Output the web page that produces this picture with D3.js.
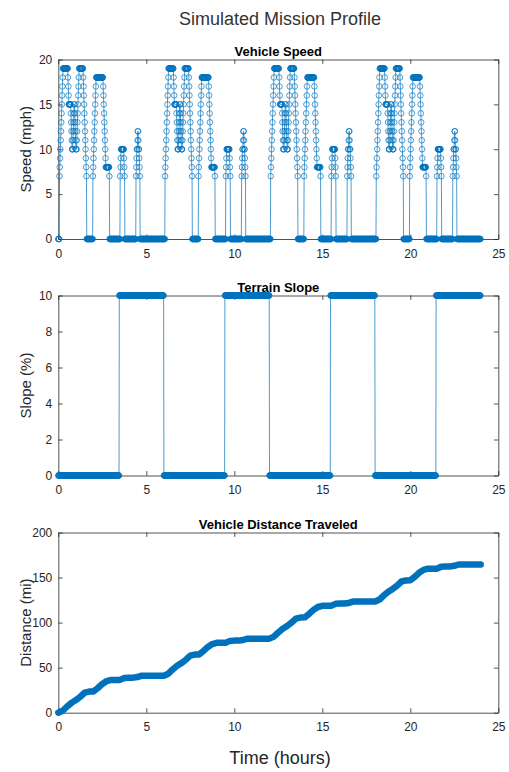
<!DOCTYPE html>
<html>
<head>
<meta charset="utf-8">
<script src="https://cdn.jsdelivr.net/npm/d3@7"></script>
<style>
  body { margin: 0; background: #fff; }
  svg { display: block; font-family: "Liberation Sans", Arial, sans-serif; }
</style>
</head>
<body>
<div id="chart"></div>
<script>
// One 6-hour mission leg, sampled every minute: [speed (mph), minutes held]
var speedRuns = [
  [0, 4],
  [7, 1], [8, 1], [9, 1], [10, 1], [11, 1], [12, 1], [13, 1], [14, 1], [15, 1], [16, 1], [17, 1], [18, 1],
  [19, 17],
  [18, 1], [17, 1], [16, 1],
  [15, 7],
  [14, 1], [13, 1], [12, 1], [11, 1],
  [10, 3],
  [11, 1], [12, 1], [13, 1], [14, 1],
  [15, 2],
  [14, 1], [13, 1], [12, 1], [11, 1],
  [10, 3],
  [11, 1], [12, 1], [13, 1], [14, 1], [15, 1], [16, 1], [17, 1], [18, 1],
  [19, 14],
  [18, 1], [17, 1], [16, 1], [15, 1], [14, 1], [13, 1], [12, 1], [11, 1], [10, 1], [9, 1], [8, 1],
  [7, 1],
  [0, 21],
  [7, 1], [8, 1], [9, 1], [10, 1], [11, 1], [12, 1], [13, 1], [14, 1], [15, 1], [16, 1], [17, 1],
  [18, 24],
  [17, 1], [16, 1], [15, 1], [14, 1], [13, 1], [12, 1], [11, 1], [10, 1], [9, 1],
  [8, 12],
  [7, 1],
  [0, 36],
  [7, 1], [8, 1], [9, 1],
  [10, 10],
  [9, 1], [8, 1], [7, 1],
  [0, 38],
  [7, 1], [8, 1], [9, 1], [10, 2], [11, 1], [12, 2], [11, 1], [10, 2], [9, 1], [8, 1], [7, 1],
  [0, 81]
];
// Terrain slope over the same leg: [slope (%), minutes held]
var slopeRuns = [[0, 208], [10, 152]];
var legCount = 4;

// Distance traveled (mi), read every quarter hour from 0 to 24 h
var distanceMiles = [
  0, 2.2, 6.9, 10.9, 14.0, 17.7, 22.2, 23.4, 23.6, 27.4, 31.9, 35.1, 36.4, 36.4, 36.4, 38.6, 38.9, 38.9, 39.6, 41.1, 41.1, 41.1, 41.1, 41.1,
  41.1, 43.3, 48.0, 52.0, 55.1, 58.8, 63.3, 64.5, 64.7, 68.5, 73.0, 76.2, 77.5, 77.5, 77.5, 79.7, 80.0, 80.0, 80.7, 82.2, 82.2, 82.2, 82.2, 82.2,
  82.2, 84.4, 89.1, 93.1, 96.2, 99.9, 104.4, 105.6, 105.8, 109.6, 114.1, 117.3, 118.6, 118.6, 118.6, 120.8, 121.1, 121.1, 121.8, 123.3, 123.3, 123.3, 123.3, 123.3,
  123.4, 125.6, 130.3, 134.3, 137.4, 141.1, 145.6, 146.8, 147.0, 150.8, 155.3, 158.5, 159.8, 159.8, 159.8, 162.0, 162.3, 162.3, 163.0, 164.5, 164.5, 164.5, 164.5, 164.5,
  164.5
];

var xTicks = [0, 5, 10, 15, 20, 25];
var speedTicks = [0, 5, 10, 15, 20];
var slopeTicks = [0, 2, 4, 6, 8, 10];
var distanceTicks = [0, 50, 100, 150, 200];

var BLUE = '#0072BD';
var AXIS = '#262626';

// expand [value, minutes] runs into one sample per minute, for every leg
function expandRuns(runs) {
  var out = [];
  for (var leg = 0; leg < legCount; leg++) {
    runs.forEach(function (r) {
      for (var k = 0; k < r[1]; k++) out.push(r[0]);
    });
  }
  return out.map(function (v, i) { return { t: i / 60, v: v }; });
}

var speedData = expandRuns(speedRuns);
var slopeData = expandRuns(slopeRuns);
var distanceData = distanceMiles.map(function (v, i) { return { t: i * 0.25, v: v }; });

var width = 509, height = 772;
var left = 58.3, right = 498.3;

var svg = d3.select('#chart').append('svg')
  .attr('width', width)
  .attr('height', height);

var x = d3.scaleLinear().domain([0, 25]).range([left, right]);

svg.append('text')
  .attr('x', 280)
  .attr('y', 25)
  .attr('text-anchor', 'middle')
  .attr('font-size', 18)
  .attr('fill', '#333')
  .text('Simulated Mission Profile');

function drawPanel(opt) {
  var y = d3.scaleLinear().domain(opt.domain).range([opt.bottom, opt.top]);
  var g = svg.append('g');

  function styleAxis(a) {
    a.selectAll('path,line').attr('stroke', AXIS).attr('stroke-width', 0.8);
    a.selectAll('text').attr('fill', AXIS).attr('font-size', 12).attr('font-family', '"Liberation Sans", Arial, sans-serif');
  }

  g.append('g')
    .attr('transform', 'translate(0,' + opt.bottom + ')')
    .call(d3.axisBottom(x).tickValues(xTicks).tickSizeInner(-4.4).tickSizeOuter(0).tickPadding(10))
    .call(styleAxis);
  g.append('g')
    .attr('transform', 'translate(0,' + opt.top + ')')
    .call(d3.axisTop(x).tickValues(xTicks).tickSizeInner(-4.4).tickSizeOuter(0).tickFormat(''))
    .call(styleAxis);
  g.append('g')
    .attr('transform', 'translate(' + left + ',0)')
    .call(d3.axisLeft(y).tickValues(opt.ticks).tickSizeInner(-4.4).tickSizeOuter(0).tickPadding(6))
    .call(styleAxis);
  g.append('g')
    .attr('transform', 'translate(' + right + ',0)')
    .call(d3.axisRight(y).tickValues(opt.ticks).tickSizeInner(-4.4).tickSizeOuter(0).tickFormat(''))
    .call(styleAxis);

  g.append('text')
    .attr('x', (left + right) / 2)
    .attr('y', opt.top - 4)
    .attr('text-anchor', 'middle')
    .attr('font-size', 13)
    .attr('font-weight', 'bold')
    .attr('fill', '#000')
    .text(opt.title);

  g.append('text')
    .attr('transform', 'translate(31,' + ((opt.top + opt.bottom) / 2) + ') rotate(-90)')
    .attr('text-anchor', 'middle')
    .attr('font-size', 15)
    .attr('fill', AXIS)
    .text(opt.ylabel);

  var line = d3.line()
    .x(function (d) { return x(d.t); })
    .y(function (d) { return y(d.v); });

  if (opt.thick) {
    g.append('path')
      .datum(opt.data)
      .attr('fill', 'none')
      .attr('stroke', BLUE)
      .attr('stroke-width', 6.5)
      .attr('stroke-linecap', 'round')
      .attr('stroke-linejoin', 'round')
      .attr('d', line);
    return;
  }

  g.append('path')
    .datum(opt.data)
    .attr('fill', 'none')
    .attr('stroke', BLUE)
    .attr('stroke-width', 0.7)
    .attr('d', line);

  g.selectAll('circle')
    .data(opt.data)
    .join('circle')
    .attr('cx', function (d) { return x(d.t); })
    .attr('cy', function (d) { return y(d.v); })
    .attr('r', 2.8)
    .attr('fill', 'none')
    .attr('stroke', BLUE)
    .attr('stroke-width', 0.7);
}

drawPanel({ data: speedData, domain: [0, 20], ticks: speedTicks, top: 59.5, bottom: 239, title: 'Vehicle Speed', ylabel: 'Speed (mph)' });
drawPanel({ data: slopeData, domain: [0, 10], ticks: slopeTicks, top: 295.5, bottom: 475.5, title: 'Terrain Slope', ylabel: 'Slope (%)' });
drawPanel({ data: distanceData, domain: [0, 200], ticks: distanceTicks, top: 532.5, bottom: 712.7, title: 'Vehicle Distance Traveled', ylabel: 'Distance (mi)', thick: true });

svg.append('text')
  .attr('x', 280)
  .attr('y', 764)
  .attr('text-anchor', 'middle')
  .attr('font-size', 18)
  .attr('fill', AXIS)
  .text('Time (hours)');
</script>
</body>
</html>
